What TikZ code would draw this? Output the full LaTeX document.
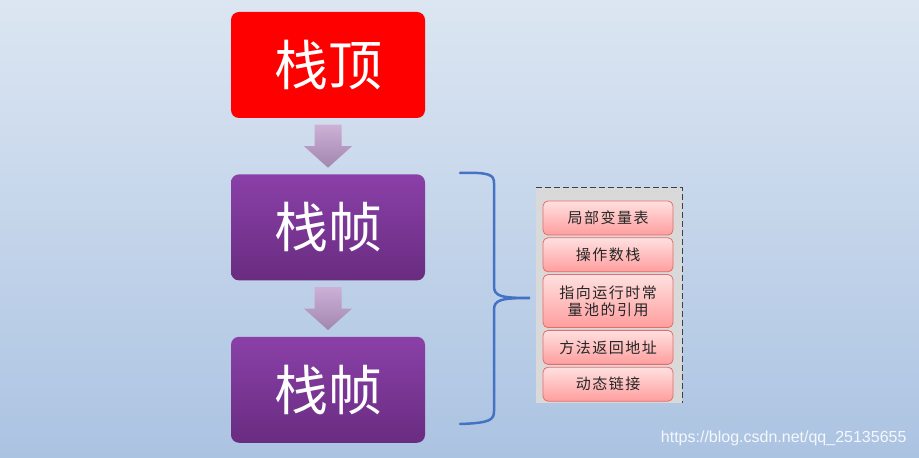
\documentclass[tikz,border=0pt]{standalone}
\usepackage{fontspec}
\setmainfont{Liberation Sans}
\newfontfamily\cjk{Noto Sans CJK SC}
\newfontfamily\cjkwide[LetterSpace=10]{Noto Sans CJK SC}
\usetikzlibrary{positioning,calc}

\definecolor{bgtop}{HTML}{DCE6F2}
\definecolor{bgbot}{HTML}{ABC3E2}
\definecolor{framepurple}{HTML}{8A40A8}
\definecolor{framedark}{HTML}{692C80}
\definecolor{arrowlight}{HTML}{CDB0D6}
\definecolor{arrowdark}{HTML}{A286AE}
\definecolor{bracecol}{HTML}{4472C4}
\definecolor{panelgray}{HTML}{D9D9D9}
\definecolor{itemlight}{HTML}{FFE0E0}
\definecolor{itemdark}{HTML}{FF9E9E}
\definecolor{itemline}{HTML}{E46C6C}

\tikzset{
  stackbox/.style={rectangle,rounded corners=8pt,minimum width=194pt,minimum height=106pt,
    text=white,font=\cjk\fontsize{54}{60}\selectfont},
  topbox/.style={stackbox,fill=red},
  framebox/.style={stackbox,top color=framepurple,bottom color=framedark},
  partbox/.style={rectangle,rounded corners=5pt,draw=itemline,line width=0.8pt,
    top color=itemlight,bottom color=itemdark,minimum width=130pt,minimum height=34pt,
    align=center,font=\cjkwide\fontsize{15}{17}\selectfont,text=black!85},
  downarrow/.style={top color=arrowlight,bottom color=arrowdark},
}

\begin{document}
\begin{tikzpicture}[x=1pt,y=1pt,node distance=56pt]
   % background
   \shade[top color=bgtop,bottom color=bgbot] (0,0) rectangle (919,458);
   \node[topbox] (top) at (328,393) {栈顶};
   \node[framebox] (f1) [below=of top] {栈帧};
   \node[framebox] (f2) [below=of f1] {栈帧};
   % arrows between the boxes
   \foreach \a/\b in {top/f1,f1/f2}{
     \path (\a.south) -- (\b.north) coordinate[midway] (m);
     \path[downarrow] ($(m)+(-13.5,21.5)$) -- ($(m)+(13.5,21.5)$) -- ($(m)+(13.5,0)$)
       -- ($(m)+(24,0)$) -- ($(m)+(0,-21.5)$) -- ($(m)+(-24,0)$) -- ($(m)+(-13.5,0)$) -- cycle;
   }
   % brace
   \draw[bracecol,line width=2.5pt,line cap=round]
     (460,285) .. controls (490,286) and (494,283) .. (494,275) -- (494,172)
     .. controls (494,162) and (500,160) .. (530,160)
     .. controls (500,160) and (494,158) .. (494,148) -- (494,47)
     .. controls (494,38) and (490,35) .. (460,34);
   % stack frame parts
   \node[fill=panelgray,minimum width=146pt,minimum height=215pt] (panel) at (609,162.5) {};
   \draw[black!75,line width=1.2pt,dash pattern=on 6pt off 3pt]
     (panel.north west) -- (panel.north east) -- (panel.south east);
   \node[partbox] (p1) at (608,240) {局部变量表};
   \node[partbox] (p2) [below=2pt of p1] {操作数栈};
   \node[partbox,minimum height=53pt] (p3) [below=2pt of p2] {指向运行时常\\量池的引用};
   \node[partbox] (p4) [below=2pt of p3] {方法返回地址};
   \node[partbox] (p5) [below=2pt of p4] {动态链接};
   \node[anchor=east,text=white!88!bgbot,font=\fontsize{16}{18}\selectfont] (url) at (910,20) {https://blog.csdn.net/qq\_25135655};
\end{tikzpicture}
\end{document}
